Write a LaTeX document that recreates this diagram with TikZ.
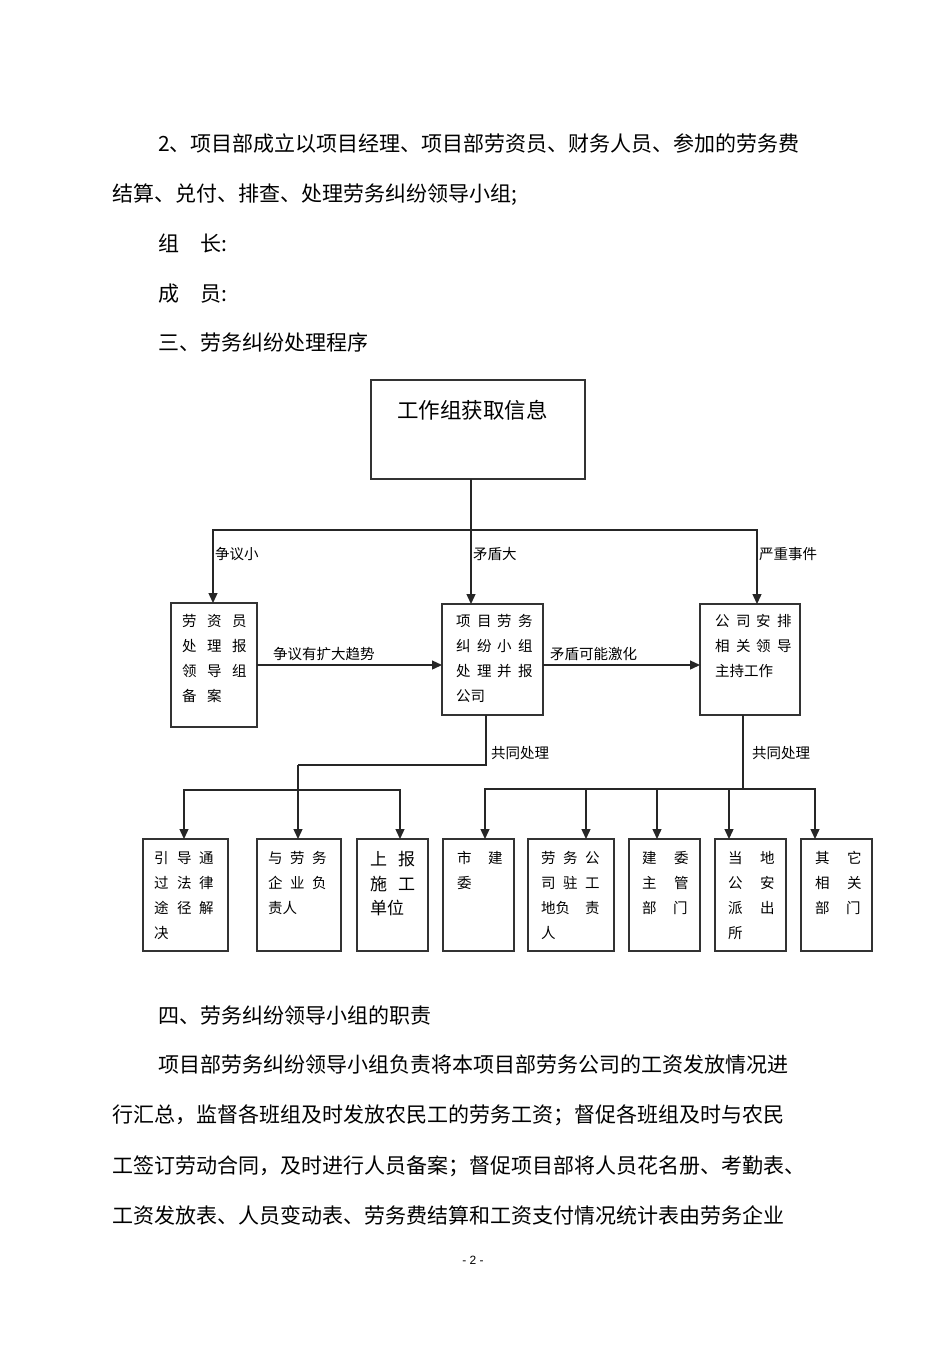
\documentclass[tikz,border=0pt]{standalone}
\usepackage{fontspec}
\setmainfont{Noto Sans CJK SC}
\newfontfamily\pgfont{Liberation Sans}
\usetikzlibrary{arrows.meta}
\newcommand\cw[2]{\makebox[#1pt][l]{#2}}
\begin{document}
\begin{tikzpicture}[x=1pt,y=-1pt,
  box/.style={draw=black!80, line width=1.3pt, anchor=north west, inner sep=0pt, outer sep=0pt},
  line/.style={draw=black!85, line width=1.3pt},
  arr/.style={line, -{Triangle[length=10pt,width=9pt]}},
  body/.style={anchor=base west, inner sep=0pt, font=\fontsize{21}{21}\selectfont},
  lab/.style={anchor=base west, inner sep=0pt, font=\fontsize{14.5}{14.5}\selectfont},
  big/.style={anchor=base west, inner sep=0pt, font=\fontsize{17}{17}\selectfont}]
\fill[white] (0,0) rectangle (950,1345);
\useasboundingbox (0,0) rectangle (950,1345);

% ---- text above ----
\node[body] (p1) at (158,151) {2、项目部成立以项目经理、项目部劳资员、财务人员、参加的劳务费};
\node[body] (p2) at (112,201) {结算、兑付、排查、处理劳务纠纷领导小组;};
\node[body] (p3) at (158,251) {组\hspace{21pt}长:};
\node[body] (p4) at (158,301) {成\hspace{21pt}员:};
\node[body] (p5) at (158,350) {三、劳务纠纷处理程序};

% ---- boxes ----
\node[box, minimum width=214pt, minimum height=99pt] (top) at (371,380) {};
\node[anchor=base west, inner sep=0pt, font=\fontsize{21.5}{21.5}\selectfont] (toptxt) at (397,418) {工作组获取信息};

\node[box, minimum width=86pt, minimum height=124pt] (L) at (171,603) {};
\node[box, minimum width=101pt, minimum height=111pt] (M) at (442,604) {};
\node[box, minimum width=100pt, minimum height=111pt] (R) at (700,604) {};

\node[box, minimum width=85pt, minimum height=112pt] (B1) at (143,839) {};
\node[box, minimum width=84pt, minimum height=112pt] (B2) at (257,839) {};
\node[box, minimum width=71pt, minimum height=112pt] (B3) at (357,839) {};

\node[box, minimum width=71pt, minimum height=112pt] (C1) at (443,839) {};
\node[box, minimum width=86pt, minimum height=112pt] (C2) at (528,839) {};
\node[box, minimum width=71pt, minimum height=112pt] (C3) at (629,839) {};
\node[box, minimum width=71pt, minimum height=112pt] (C4) at (715,839) {};
\node[box, minimum width=71pt, minimum height=112pt] (C5) at (801,839) {};

% ---- top connectors ----
\coordinate (j0) at (471,530);
\coordinate (jl) at (213,530);
\coordinate (jr) at (757,530);
\draw[line] (top.south -| j0) -- (j0);
\draw[arr] (j0) -- (jl) -- (L.north -| jl);
\draw[arr] (j0) -- (M.north -| j0);
\draw[arr] (j0) -- (jr) -- (R.north -| jr);
\node[lab] (lb1) at (215,559.5) {争议小};
\node[lab] (lb2) at (473,559.5) {矛盾大};
\node[lab] (lb3) at (759,559.5) {严重事件};

% ---- middle row ----
\draw[arr] (L.east) -- (L.east -| M.west);
\draw[arr] (M.east |- L.east) -- (R.west |- L.east);
\node[lab] (h1) at (273,659.5) {争议有扩大趋势};
\node[lab] (h2) at (550,659.5) {矛盾可能激化};

\node[lab] (l1) at (182,626.5) {\cw{25}{劳}\cw{25}{资}员};
\node[lab] (l2) at (182,651.5) {\cw{25}{处}\cw{25}{理}报};
\node[lab] (l3) at (182,676.5) {\cw{25}{领}\cw{25}{导}组};
\node[lab] (l4) at (182,701.5) {\cw{25}{备}案};

\node[lab] (mt1) at (456,626.5) {\cw{21}{项}\cw{20}{目}\cw{21}{劳}务};
\node[lab] (mt2) at (456,651.5) {\cw{21}{纠}\cw{20}{纷}\cw{21}{小}组};
\node[lab] (mt3) at (456,676.5) {\cw{21}{处}\cw{20}{理}\cw{21}{并}报};
\node[lab] (mt4) at (456,701.5) {公司};

\node[lab] (rt1) at (715,626.5) {\cw{21}{公}\cw{20}{司}\cw{21}{安}排};
\node[lab] (rt2) at (715,651.5) {\cw{21}{相}\cw{20}{关}\cw{21}{领}导};
\node[lab] (rt3) at (715,676.5) {主持工作};

% ---- left lower group ----
\coordinate (m1) at (486,765);
\coordinate (m2) at (298,765);
\coordinate (bm) at (298,790);
\coordinate (b1) at (184,790);
\coordinate (b3) at (400,790);
\draw[line] (M.south -| m1) -- (m1) -- (m2);
\draw[arr] (m2) -- (B2.north -| m2);
\draw[arr] (bm) -- (b1) -- (B1.north -| b1);
\draw[arr] (bm) -- (b3) -- (B3.north -| b3);
\node[lab] (g1) at (491,758.5) {共同处理};

\node[lab] (x1) at (154,863.5) {\cw{23}{引}\cw{22}{导}通};
\node[lab] (x2) at (154,888.5) {\cw{23}{过}\cw{22}{法}律};
\node[lab] (x3) at (154,913.5) {\cw{23}{途}\cw{22}{径}解};
\node[lab] (x4) at (154,938.5) {决};

\node[lab] (y1) at (268,863.5) {\cw{22}{与}\cw{22}{劳}务};
\node[lab] (y2) at (268,888.5) {\cw{22}{企}\cw{22}{业}负};
\node[lab] (y3) at (268,913.5) {责人};

\node[big] (z1) at (370,865.5) {\cw{28}{上}报};
\node[big] (z2) at (370,890.5) {\cw{28}{施}工};
\node[big] (z3) at (370,914.5) {单位};

% ---- right lower group ----
\coordinate (r0) at (743,789);
\coordinate (c1) at (485,789);
\coordinate (c2) at (586,789);
\coordinate (c3) at (657,789);
\coordinate (c4) at (729,789);
\coordinate (c5) at (815,789);
\draw[line] (R.south -| r0) -- (r0);
\draw[arr] (r0) -- (c1) -- (C1.north -| c1);
\draw[arr] (c2) -- (C2.north -| c2);
\draw[arr] (c3) -- (C3.north -| c3);
\draw[arr] (c4) -- (C4.north -| c4);
\draw[arr] (r0) -- (c5) -- (C5.north -| c5);
\node[lab] (g2) at (752,758.5) {共同处理};

\node[lab] (s1) at (457,863.5) {\cw{31}{市}建};
\node[lab] (s2) at (457,888.5) {委};

\node[lab] (w1) at (541,863.5) {\cw{22}{劳}\cw{22}{务}公};
\node[lab] (w2) at (541,888.5) {\cw{22}{司}\cw{22}{驻}工};
\node[lab] (w3) at (541,913.5) {\cw{44}{地负}责};
\node[lab] (w4) at (541,938.5) {人};

\node[lab] (k1) at (642,863.5) {\cw{32}{建}委};
\node[lab] (k2) at (642,888.5) {\cw{32}{主}管};
\node[lab] (k3) at (642,913.5) {\cw{31}{部}门};

\node[lab] (d1) at (728,863.5) {\cw{32}{当}地};
\node[lab] (d2) at (728,888.5) {\cw{32}{公}安};
\node[lab] (d3) at (728,913.5) {\cw{32}{派}出};
\node[lab] (d4) at (728,938.5) {所};

\node[lab] (q1) at (815,863.5) {\cw{32}{其}它};
\node[lab] (q2) at (815,888.5) {\cw{32}{相}关};
\node[lab] (q3) at (815,913.5) {\cw{31}{部}门};

% ---- text below ----
\node[body] (p6) at (158,1023) {四、劳务纠纷领导小组的职责};
\node[body] (p7) at (158,1072) {项目部劳务纠纷领导小组负责将本项目部劳务公司的工资发放情况进};
\node[body] (p8) at (112,1122) {行汇总，监督各班组及时发放农民工的劳务工资；督促各班组及时与农民};
\node[body] (p9) at (112,1173) {工签订劳动合同，及时进行人员备案；督促项目部将人员花名册、考勤表、};
\node[body] (p10) at (112,1223) {工资发放表、人员变动表、劳务费结算和工资支付情况统计表由劳务企业};
\node[anchor=center, inner sep=0pt, font=\pgfont\fontsize{12}{12}\selectfont] (pg) at (473,1260) {- 2 -};
\end{tikzpicture}
\end{document}
